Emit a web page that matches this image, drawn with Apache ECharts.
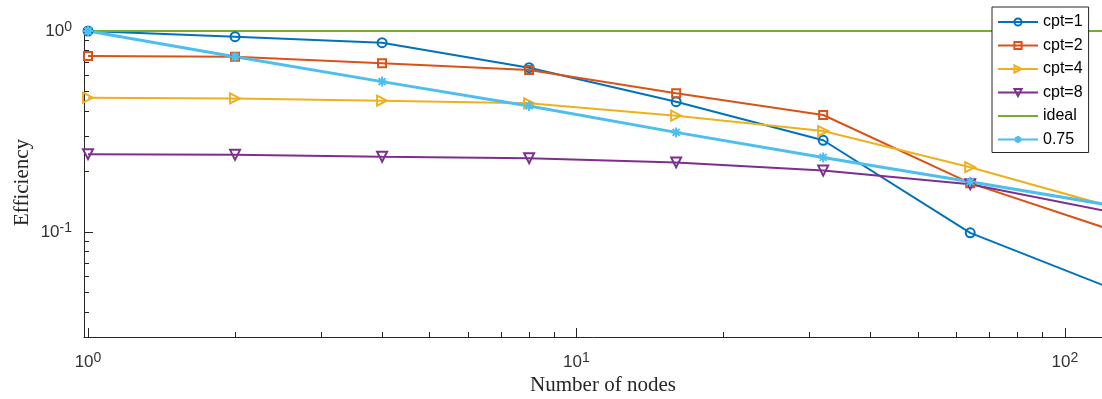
<!DOCTYPE html>
<html><head><meta charset="utf-8">
<script src="https://cdn.jsdelivr.net/npm/echarts@6/dist/echarts.min.js"></script>
<style>html,body{margin:0;padding:0;background:#fff}#c{width:1102px;height:399px}</style>
</head><body><div id="c"></div>
<script>
// ---- data ----
const nodes = [1, 2, 4, 8, 16, 32, 64, 128];
const cpt1  = [1.000, 0.937, 0.875, 0.657, 0.445, 0.286, 0.099, 0.051];
const cpt2  = [0.751, 0.745, 0.691, 0.640, 0.490, 0.382, 0.175, 0.100];
const cpt4  = [0.466, 0.462, 0.450, 0.437, 0.379, 0.318, 0.210, 0.131];
const cpt8  = [0.244, 0.242, 0.237, 0.233, 0.222, 0.202, 0.173, 0.124];
const ideal = [1, 1, 1, 1, 1, 1, 1, 1];
const eff75 = [1.000, 0.745, 0.560, 0.424, 0.313, 0.235, 0.178, 0.134];
const seriesNames = ['cpt=1', 'cpt=2', 'cpt=4', 'cpt=8', 'ideal', '0.75'];

// tick values and labels (base 10 with exponent)
const xMajorTicks = [1, 10, 100];
const xMajorExp   = ['0', '1', '2'];
const xMinorTicks = [2, 3, 4, 5, 6, 7, 8, 9, 20, 30, 40, 50, 60, 70, 80, 90];
const yMajorTicks = [0.1, 1];
const yMajorExp   = ['-1', '0'];
const yMinorTicks = [0.04, 0.05, 0.06, 0.07, 0.08, 0.09, 0.2, 0.3, 0.4, 0.5, 0.6, 0.7, 0.8, 0.9];

const X_MIN = 0.9813, X_MAX = 130.9, Y_MIN = 0.03003, Y_MAX = 1.035;

// ---- styling ----
const colors = ['#0072BD', '#D95319', '#EDB120', '#7E2F8E', '#77AC30', '#4DBEEE'];
const axisColor = '#262626';
const sansFont = 'Liberation Sans, Arial, sans-serif';
const serifFont = 'Liberation Serif, Times New Roman, serif';

function pickLabel(ticks, exps, v) {
  let best = 0, bd = Infinity;
  ticks.forEach((t, i) => { const d = Math.abs(Math.log10(t) - Math.log10(v)); if (d < bd) { bd = d; best = i; } });
  return '{b|10}{s|' + exps[best] + '}';
}
const richSup = {
  b: { fontSize: 17, fontFamily: sansFont, color: '#333', lineHeight: 22 },
  s: { fontSize: 14, fontFamily: sansFont, color: '#333', lineHeight: 12, verticalAlign: 'top' }
};

const asterisk = 'path://M5,0L5,10M0,5L10,5M1.5,1.5L8.5,8.5M1.5,8.5L8.5,1.5';

function mk(name, vals, ci, symbol, size, rot, lw) {
  const hasSym = symbol !== 'none';
  return {
    name: name, type: 'line', xAxisIndex: 0, yAxisIndex: 0,
    data: nodes.map((n, i) => [n, vals[i]]),
    symbol: hasSym ? symbol : 'circle', symbolSize: size, symbolRotate: rot,
    showSymbol: hasSym,
    lineStyle: { color: colors[ci], width: lw },
    itemStyle: { color: 'rgba(255,255,255,0)', borderColor: hasSym ? colors[ci] : 'rgba(255,255,255,0)', borderWidth: hasSym ? 2 : 0 },
    emphasis: { disabled: true },
    clip: true
  };
}

const chart = echarts.init(document.getElementById('c'), null, { renderer: 'canvas' });
chart.setOption({
  animation: false,
  backgroundColor: '#ffffff',
  grid: { left: 84, right: -20, top: 28, bottom: 62, containLabel: false, outerBoundsMode: 'none' },
  legend: {
    orient: 'vertical', left: 992, top: 7,
    padding: [7, 6, 5, 5],
    itemWidth: 40, itemHeight: 9, itemGap: 7.5,
    backgroundColor: '#ffffff', borderColor: axisColor, borderWidth: 1, borderRadius: 0,
    textStyle: { fontSize: 16, fontFamily: sansFont, color: '#000', lineHeight: 16 },
    data: seriesNames
  },
  xAxis: [
    {
      type: 'log', logBase: 10, min: X_MIN, max: X_MAX, position: 'bottom',
      name: 'Number of nodes', nameLocation: 'middle', nameGap: 38, nameMoveOverlap: false,
      nameTextStyle: { fontFamily: serifFont, fontSize: 21, color: axisColor },
      axisLine: { show: true, onZero: false, lineStyle: { color: axisColor, width: 1 } },
      axisTick: { show: true, inside: true, length: 9, customValues: xMajorTicks, lineStyle: { color: axisColor } },
      axisLabel: { show: true, margin: 14, customValues: xMajorTicks,
        formatter: v => pickLabel(xMajorTicks, xMajorExp, v), rich: richSup },
      splitLine: { show: false }, minorTick: { show: false }
    },
    {
      type: 'log', logBase: 10, min: X_MIN, max: X_MAX, position: 'bottom',
      axisLine: { show: false },
      axisTick: { show: true, inside: true, length: 5, customValues: xMinorTicks, lineStyle: { color: axisColor } },
      axisLabel: { show: false }, splitLine: { show: false }
    }
  ],
  yAxis: [
    {
      type: 'log', logBase: 10, min: Y_MIN, max: Y_MAX, position: 'left',
      name: 'Efficiency', nameLocation: 'middle', nameGap: 51, nameRotate: 90, nameMoveOverlap: false,
      nameTextStyle: { fontFamily: serifFont, fontSize: 21, color: axisColor },
      axisLine: { show: true, onZero: false, lineStyle: { color: axisColor, width: 1 } },
      axisTick: { show: true, inside: true, length: 9, customValues: yMajorTicks, lineStyle: { color: axisColor } },
      axisLabel: { show: true, margin: 12, customValues: yMajorTicks,
        formatter: v => pickLabel(yMajorTicks, yMajorExp, v), rich: richSup },
      splitLine: { show: false }, minorTick: { show: false }
    },
    {
      type: 'log', logBase: 10, min: Y_MIN, max: Y_MAX, position: 'left',
      axisLine: { show: false },
      axisTick: { show: true, inside: true, length: 5, customValues: yMinorTicks, lineStyle: { color: axisColor } },
      axisLabel: { show: false }, splitLine: { show: false }
    }
  ],
  series: [
    mk('cpt=1', cpt1, 0, 'circle', 9, 0, 2),
    mk('cpt=2', cpt2, 1, 'rect', 8, 0, 2),
    mk('cpt=4', cpt4, 2, 'triangle', 10, -90, 2),
    mk('cpt=8', cpt8, 3, 'triangle', 10, 180, 2),
    mk('ideal', ideal, 4, 'none', 0, 0, 2),
    mk('0.75', eff75, 5, asterisk, 10, 0, 3)
  ]
});
</script></body></html>
